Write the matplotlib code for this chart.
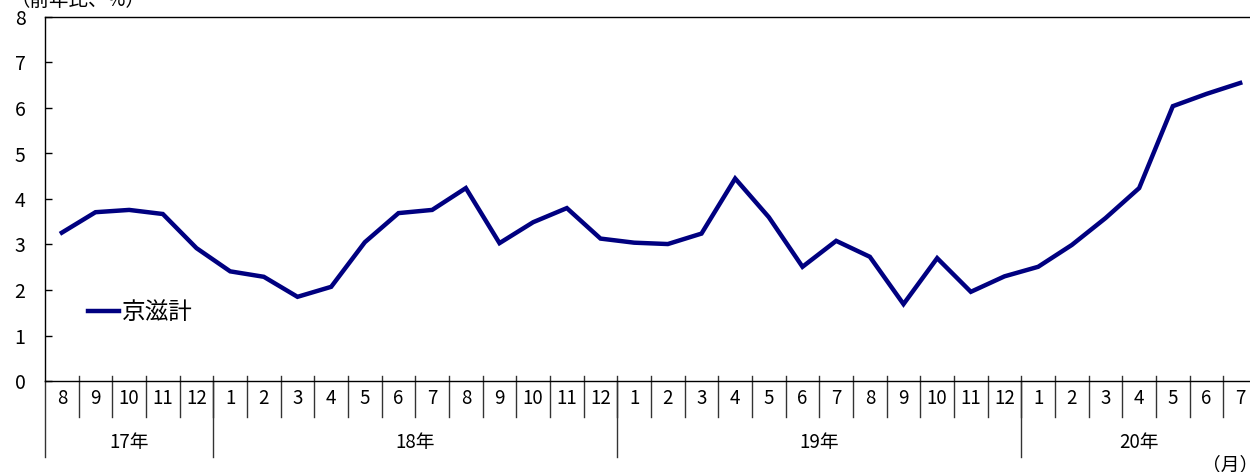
import matplotlib
matplotlib.use("Agg")
import matplotlib.pyplot as plt
import matplotlib.transforms as mtransforms

plt.rcParams["font.family"] = ["Noto Sans CJK JP", "DejaVu Sans"]

# months from 2017-08 to 2020-07
months = [8, 9, 10, 11, 12,
          1, 2, 3, 4, 5, 6, 7, 8, 9, 10, 11, 12,
          1, 2, 3, 4, 5, 6, 7, 8, 9, 10, 11, 12,
          1, 2, 3, 4, 5, 6, 7]
years = ["17年", "18年", "19年", "20年"]
year_counts = [5, 12, 12, 7]

keiji = [3.26, 3.71, 3.76, 3.67, 2.92,
         2.41, 2.29, 1.85, 2.07, 3.05, 3.69, 3.76, 4.24, 3.03, 3.49, 3.80, 3.13,
         3.04, 3.01, 3.24, 4.45, 3.60, 2.51, 3.08, 2.73, 1.69, 2.70, 1.96, 2.30,
         2.51, 2.99, 3.58, 4.24, 6.04, 6.31, 6.55]

fig = plt.figure(figsize=(12.5, 4.72), dpi=100)
ax = fig.add_axes([45 / 1250, 91 / 472, 1212 / 1250, 364 / 472])

x = list(range(len(keiji)))
ax.plot(x, keiji, color="#000080", linewidth=3.2, label="京滋計",
        solid_joinstyle="miter")

ax.set_xlim(-0.5, len(keiji) - 0.5)
ax.set_ylim(0, 8)
ax.set_yticks(range(0, 9))
ax.tick_params(axis="y", direction="in", length=5, width=1,
               labelsize=14, pad=14)
ax.set_xticks([])
ax.spines["right"].set_visible(False)
for s in ["left", "top", "bottom"]:
    ax.spines[s].set_linewidth(1)
    ax.spines[s].set_color("black")

# category axis drawn by hand below the plot
trans = mtransforms.blended_transform_factory(ax.transData, ax.transAxes)
sep_color = "#333333"
for i in range(1, len(months)):
    ax.plot([i - 0.5, i - 0.5], [0.014, -0.099], transform=trans,
            color=sep_color, linewidth=1, clip_on=False)
for i, m in enumerate(months):
    ax.text(i, -0.047, str(m), transform=trans, ha="center", va="center",
            fontsize=13.5)

start = 0
for yr, cnt in zip(years, year_counts):
    ax.plot([start - 0.5, start - 0.5], [0, -0.209], transform=trans,
            color=sep_color, linewidth=1, clip_on=False)
    center = start + (cnt - 1) / 2
    ax.text(center, -0.17, yr, transform=trans, ha="center", va="center",
            fontsize=13.5)
    start += cnt

fig.text(1230 / 1250, 1 - 465 / 472, "（月）", ha="center", va="center",
         fontsize=13.5)
fig.text(10 / 1250, 1 - 0 / 472, "（前年比、%）", ha="left", va="center",
         fontsize=14)

ax.legend(loc="center left", bbox_to_anchor=(0.0355, 0.187), frameon=False,
          fontsize=17, handlelength=1.3, handletextpad=0.15,
          borderpad=0, borderaxespad=0)

fig.savefig("out.png", dpi=100)
